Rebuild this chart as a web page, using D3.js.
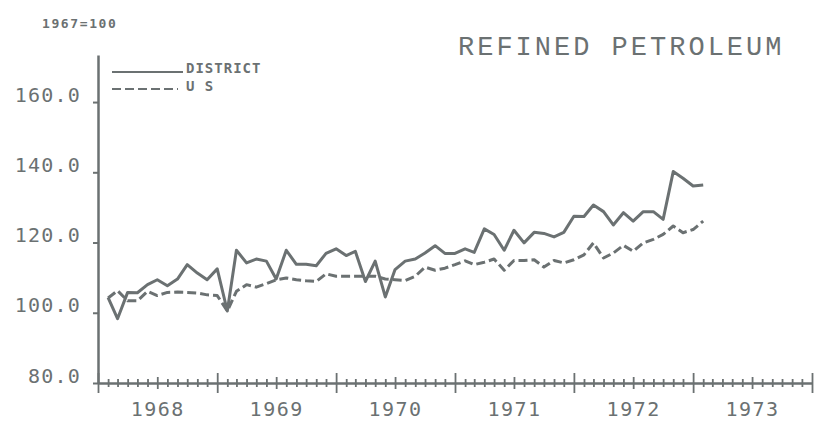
<!DOCTYPE html>
<html>
  <head>
  <meta charset="utf-8">
  <script src="https://d3js.org/d3.v7.min.js"></script>
  <style>
    body { margin: 0; background: #fff; }
    text { font-family: "DejaVu Sans Mono", monospace; fill: #6b7172; }
  </style>
  </head>

  <body>
  <div id="my_dataviz"></div>

  <script>

    // monthly index values, Jan 1968 .. Jan 1973 (1967=100)
    var district = [104.3, 98.3, 105.8, 105.7, 108.0, 109.4, 107.7, 109.6, 113.7, 111.3, 109.4, 112.5,
                    100.5, 117.8, 114.2, 115.3, 114.7, 109.6, 117.8, 113.8, 113.8, 113.4, 116.9, 118.2,
                    116.3, 117.5, 108.9, 114.7, 104.5, 112.3, 114.7, 115.3, 117.0, 119.1, 116.9, 116.9,
                    118.2, 117.2, 123.9, 122.3, 117.8, 123.5, 119.9, 122.9, 122.6, 121.6, 122.9, 127.5,
                    127.4, 130.7, 128.8, 125.0, 128.5, 126.1, 128.8, 128.8, 126.6, 140.2, 138.3, 136.1,
                    136.4];
    var us = [104.2, 106.3, 103.4, 103.4, 106.1, 104.9, 105.8, 105.9, 105.8, 105.6, 105.1, 104.9,
              100.5, 106.1, 108.0, 107.3, 108.3, 109.4, 109.9, 109.4, 109.1, 108.9, 111.1, 110.4,
              110.4, 110.4, 110.4, 110.4, 109.6, 109.4, 109.2, 110.4, 113.0, 112.1, 112.7, 113.7,
              114.8, 113.7, 114.4, 115.3, 112.1, 114.9, 114.9, 115.1, 113.0, 114.9, 114.2, 115.1,
              116.5, 119.9, 115.6, 117.0, 119.2, 117.5, 119.9, 120.9, 122.3, 124.7, 122.8, 123.7,
              126.1];
    var yTicks = [80, 100, 120, 140, 160];
    var yearLabels = [1968, 1969, 1970, 1971, 1972, 1973];

    var width = 834, height = 430;
    var ink = "#6b7172";

    var svg = d3.select("#my_dataviz")
      .append("svg")
        .attr("width", width)
        .attr("height", height);

    // each value is plotted at the end of its month
    var dates = district.map(function(d, i) { return new Date(1968, i + 1, 1); });

    var x = d3.scaleTime()
        .domain([new Date(1968, 0, 1), new Date(1974, 0, 1)])
        .range([98, 812]);

    var y = d3.scaleLinear()
        .domain([80, 173.4])
        .range([383, 55]);

    // y axis
    var yAxis = svg.append("g")
        .attr("transform", "translate(98,0)")
        .call(d3.axisLeft(y)
          .tickValues(yTicks)
          .tickFormat(d3.format(".1f"))
          .tickSize(5)
          .tickSizeOuter(0)
          .tickPadding(12));
    yAxis.select(".domain").attr("stroke", ink).attr("stroke-width", 2.5);
    yAxis.selectAll(".tick line").attr("stroke", ink).attr("stroke-width", 2);
    yAxis.selectAll(".tick text")
        .attr("dy", "-0.05em")
        .style("font-size", "20px")
        .style("letter-spacing", "1.2px")
        .style("fill", ink);

    // x axis, monthly ticks crossing the line
    var xAxis = svg.append("g")
        .attr("transform", "translate(0,383)")
        .call(d3.axisBottom(x)
          .ticks(d3.timeMonth.every(1))
          .tickFormat("")
          .tickSizeOuter(0));
    xAxis.select(".domain").attr("stroke", ink).attr("stroke-width", 2.5);
    xAxis.selectAll(".tick line")
        .attr("stroke", ink)
        .attr("stroke-width", 1.8)
        .attr("y1", function(d) { return d.getMonth() === 0 ? -10 : (d.getMonth() === 6 ? -6 : -4); })
        .attr("y2", function(d) { return d.getMonth() === 0 ? 10 : (d.getMonth() === 6 ? 6 : 4); });

    // year labels centred on mid-year
    var labelAxis = svg.append("g")
        .attr("transform", "translate(0,402)")
        .call(d3.axisBottom(x)
          .tickValues(yearLabels.map(function(d) { return new Date(d, 6, 1); }))
          .tickFormat(d3.timeFormat("%Y"))
          .tickSize(0)
          .tickPadding(0));
    labelAxis.select(".domain").remove();
    labelAxis.selectAll(".tick text")
        .attr("dy", "0.71em")
        .style("font-size", "20px")
        .style("letter-spacing", "1.5px")
        .style("fill", ink);

    // lines
    var line = d3.line()
        .x(function(d, i) { return x(dates[i]); })
        .y(function(d) { return y(d); });

    svg.append("path")
        .datum(us)
        .attr("d", line)
        .attr("fill", "none")
        .attr("stroke", ink)
        .attr("stroke-width", 3)
        .attr("stroke-dasharray", "9,4")
        .attr("stroke-linejoin", "round");

    svg.append("path")
        .datum(district)
        .attr("d", line)
        .attr("fill", "none")
        .attr("stroke", ink)
        .attr("stroke-width", 3)
        .attr("stroke-linejoin", "round");

    // legend
    svg.append("line")
        .attr("x1", 112).attr("x2", 183).attr("y1", 72).attr("y2", 72)
        .attr("stroke", ink).attr("stroke-width", 2);
    svg.append("line")
        .attr("x1", 112).attr("x2", 178).attr("y1", 89).attr("y2", 89)
        .attr("stroke", ink).attr("stroke-width", 2)
        .attr("stroke-dasharray", "9,4");
    svg.append("text")
        .attr("x", 186).attr("y", 73)
        .text("DISTRICT")
        .style("font-size", "14px").style("font-weight", "bold").style("letter-spacing", "1px");
    svg.append("text")
        .attr("x", 186).attr("y", 91)
        .text("U S")
        .style("font-size", "14px").style("font-weight", "bold").style("letter-spacing", "1px");

    // base note and title
    svg.append("text")
        .attr("x", 42).attr("y", 28)
        .text("1967=100")
        .style("font-size", "13px").style("font-weight", "bold").style("letter-spacing", "1.6px");

    svg.append("text")
        .attr("x", 458).attr("y", 55)
        .text("REFINED PETROLEUM")
        .style("font-family", "'Liberation Mono', monospace")
        .style("font-size", "27px")
        .style("letter-spacing", "3px");

  </script>
  </body>

</html>
